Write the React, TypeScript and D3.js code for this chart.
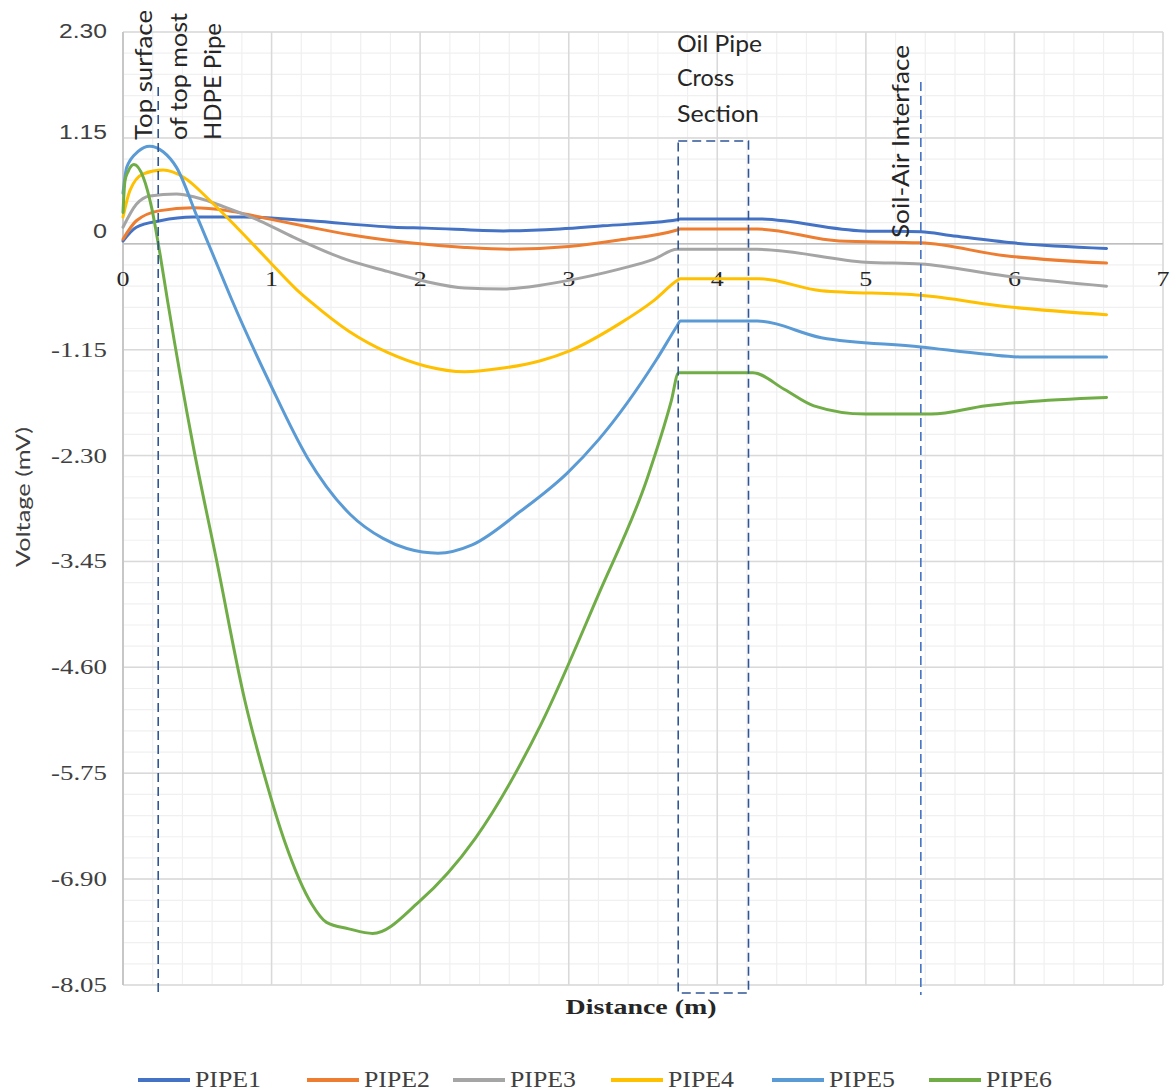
import React from "react";
import * as d3 from "d3";

const seriesNames = ["PIPE1", "PIPE2", "PIPE3", "PIPE4", "PIPE5", "PIPE6"];
const seriesColors = ["#4472c4", "#ed7d31", "#a5a5a5", "#ffc000", "#5b9bd5", "#70ad47"];

const pipe1: [number, number][] = [
  [0, 0.03], [0.09, 0.18], [0.25, 0.25], [0.47, 0.29], [0.81, 0.29], [1.26, 0.25], [1.82, 0.18],
  [2.04, 0.17], [2.56, 0.14], [2.94, 0.16], [3.23, 0.195], [3.73, 0.26], [3.75, 0.27], [4.27, 0.27],
  [4.98, 0.14], [5.37, 0.13], [5.57, 0.09], [5.99, 0.01], [6.62, -0.05],
];
const pipe2: [number, number][] = [
  [0, 0.05], [0.09, 0.25], [0.25, 0.36], [0.47, 0.39], [0.7, 0.36], [0.92, 0.29], [1.26, 0.18],
  [1.52, 0.1], [1.93, 0.01], [2.3, -0.04], [2.6, -0.06], [3.0, -0.03], [3.34, 0.04], [3.73, 0.15],
  [3.75, 0.16], [4.27, 0.16], [4.82, 0.03], [5.37, 0.01], [5.94, -0.13], [6.62, -0.21],
];
const pipe3: [number, number][] = [
  [0, 0.18], [0.09, 0.43], [0.18, 0.52], [0.36, 0.54], [0.5, 0.5], [0.7, 0.39], [0.92, 0.25],
  [1.15, 0.07], [1.5, -0.17], [1.78, -0.3], [2.04, -0.41], [2.3, -0.48], [2.56, -0.49], [2.81, -0.45],
  [2.99, -0.4], [3.34, -0.275], [3.57, -0.17], [3.73, -0.06], [3.75, -0.06], [4.27, -0.06], [5.0, -0.2],
  [5.37, -0.22], [5.94, -0.35], [6.62, -0.46],
];
const pipe4: [number, number][] = [
  [0, 0.29], [0.047, 0.58], [0.137, 0.76], [0.27, 0.8], [0.41, 0.72], [0.585, 0.47], [0.765, 0.18],
  [0.99, -0.2], [1.17, -0.5], [1.27, -0.64], [1.52, -0.95], [1.78, -1.18], [2.04, -1.33], [2.3, -1.39],
  [2.56, -1.35], [2.81, -1.27], [3.01, -1.16], [3.34, -0.87], [3.57, -0.62], [3.73, -0.4], [3.75, -0.38],
  [4.28, -0.38], [4.7, -0.51], [5.37, -0.56], [5.99, -0.69], [6.62, -0.77],
];
const pipe5: [number, number][] = [
  [0, 0.55], [0.025, 0.83], [0.1, 1.0], [0.18, 1.06], [0.27, 1.0], [0.36, 0.83], [0.5, 0.29],
  [0.65, -0.29], [0.73, -0.6], [0.99, -1.52], [1.24, -2.32], [1.53, -2.94],
  [1.75, -3.2], [1.91, -3.31], [2.12, -3.36], [2.35, -3.27], [2.68, -2.9], [2.99, -2.49], [3.2, -2.13],
  [3.59, -1.26], [3.73, -0.89], [3.75, -0.84], [4.27, -0.84], [4.7, -1.02], [5.37, -1.12], [5.81, -1.2],
  [6.06, -1.23], [6.62, -1.23],
];
const pipe6: [number, number][] = [
  [0, 0.34], [0.013, 0.68], [0.036, 0.79], [0.074, 0.86], [0.137, 0.72], [0.193, 0.39], [0.249, -0.11],
  [0.3, -0.62], [0.473, -2.2], [0.63, -3.44], [0.82, -4.96], [0.96, -5.82], [1.09, -6.5],
  [1.27, -7.17], [1.37, -7.37], [1.52, -7.44], [1.68, -7.49], [1.99, -7.15], [2.37, -6.46], [2.81, -5.23],
  [3.2, -3.81], [3.53, -2.54], [3.69, -1.71], [3.74, -1.4], [4.24, -1.4], [4.45, -1.58], [4.65, -1.76],
  [5.0, -1.85], [5.44, -1.85], [5.81, -1.76], [6.06, -1.72], [6.62, -1.67],
];
const allSeries = [pipe1, pipe2, pipe3, pipe4, pipe5, pipe6];

const yTickValues = [2.3, 1.15, 0, -1.15, -2.3, -3.45, -4.6, -5.75, -6.9, -8.05];
const yTickLabels = ["2.30", "1.15", "0", "-1.15", "-2.30", "-3.45", "-4.60", "-5.75", "-6.90", "-8.05"];
const xTickValues = [0, 1, 2, 3, 4, 5, 6, 7];

// annotation x positions (in data units)
const hdpeLineX = 0.237;
const oilBoxX = [3.737, 4.21];
const soilLineX = 5.37;

const W = 1175;
const H = 1091;

export default function App() {
  const x = d3.scaleLinear().domain([0, 7]).range([123, 1163]);
  const y = d3.scaleLinear().domain([-8.05, 2.3]).range([985, 32]);

  const line = d3
    .line<[number, number]>()
    .x((d) => x(d[0]))
    .y((d) => y(d[1]))
    .curve(d3.curveMonotoneX);

  const minorY = d3.range(-8.05, 2.3 + 1e-6, 0.23);
  const minorX = d3.range(0, 7 + 1e-6, 0.2);

  const sans = "Lato, 'Open Sans', sans-serif";
  const serif = "'Liberation Serif', 'DejaVu Serif', serif";
  const dashColor = "#2f5597";

  const legendLineX = [138, 307, 453, 611, 772, 929];

  return (
    <svg width={W} height={H} style={{ position: "absolute", left: 0, top: 0, background: "#fff" }}>
      <rect x={0} y={0} width={W} height={H} fill="#fff" />
      {/* minor grid */}
      {minorY.map((v, i) => (
        <line key={"my" + i} x1={x(0)} x2={x(7)} y1={y(v)} y2={y(v)} stroke="#f0f0f0" strokeWidth={1.2} />
      ))}
      {minorX.map((v, i) => (
        <line key={"mx" + i} x1={x(v)} x2={x(v)} y1={y(2.3)} y2={y(-8.05)} stroke="#f0f0f0" strokeWidth={1.2} />
      ))}
      {/* major grid */}
      {yTickValues.map((v, i) => (
        <line key={"gy" + i} x1={x(0)} x2={x(7)} y1={y(v)} y2={y(v)} stroke="#d9d9d9" strokeWidth={1.5} />
      ))}
      {xTickValues.map((v, i) => (
        <line key={"gx" + i} x1={x(v)} x2={x(v)} y1={y(2.3)} y2={y(-8.05)} stroke="#d9d9d9" strokeWidth={1.5} />
      ))}
      {/* axes */}
      <line x1={x(0)} x2={x(0)} y1={y(2.3)} y2={y(-8.05)} stroke="#bfbfbf" strokeWidth={1.5} />
      <line x1={x(0)} x2={x(7)} y1={y(0)} y2={y(0)} stroke="#bfbfbf" strokeWidth={1.5} />

      {/* y tick labels */}
      {yTickValues.map((v, i) => {
        const isSans = v >= 0;
        const off = v === 2.3 ? -1 : v === 1.15 ? -6 : v === 0 ? -13 : 0;
        const lab = yTickLabels[i];
        const len = lab.length === 1 ? 14 : lab.length === 4 ? 48 : 56;
        return (
          <text
            key={"yl" + i}
            x={107}
            y={y(v) + off + 7}
            textAnchor="end"
            fontFamily={isSans ? "'Liberation Sans', Arial, sans-serif" : serif}
            fontSize={20}
            fill="#404040"
            textLength={len}
            lengthAdjust="spacingAndGlyphs"
          >
            {lab}
          </text>
        );
      })}
      {/* x tick labels */}
      {xTickValues.map((v, i) => (
        <text
          key={"xl" + i}
          x={x(v)}
          y={y(0) + 42}
          textAnchor="middle"
          fontFamily={serif}
          fontSize={21}
          fill="#262626"
          textLength={13}
          lengthAdjust="spacingAndGlyphs"
        >
          {String(v)}
        </text>
      ))}

      {/* series */}
      {allSeries.map((s, i) => (
        <path
          key={"s" + i}
          d={line(s) || ""}
          fill="none"
          stroke={seriesColors[i]}
          strokeWidth={3}
          strokeLinejoin="round"
          strokeLinecap="round"
        />
      ))}

      {/* annotations */}
      <line x1={x(hdpeLineX)} x2={x(hdpeLineX)} y1={87} y2={993} stroke={dashColor} strokeWidth={1.6} strokeDasharray="9,5" />
      <rect
        x={x(oilBoxX[0])}
        y={141}
        width={x(oilBoxX[1]) - x(oilBoxX[0])}
        height={993 - 141}
        fill="none"
        stroke={dashColor}
        strokeWidth={1.6}
        strokeDasharray="9,5"
      />
      <line x1={x(soilLineX)} x2={x(soilLineX)} y1={82} y2={995} stroke="#4472c4" strokeWidth={1.6} strokeDasharray="9,5" />

      <text transform="translate(152,140) rotate(-90)" fontFamily={sans} fontSize={24} fill="#262626" textLength={130} lengthAdjust="spacingAndGlyphs">
        Top surface
      </text>
      <text transform="translate(187,140) rotate(-90)" fontFamily={sans} fontSize={24} fill="#262626" textLength={127} lengthAdjust="spacingAndGlyphs">
        of top most
      </text>
      <text transform="translate(221,140) rotate(-90)" fontFamily={sans} fontSize={24} fill="#262626" textLength={117} lengthAdjust="spacingAndGlyphs">
        HDPE Pipe
      </text>
      <text x={677} y={52} fontFamily={sans} fontSize={23} fill="#262626" textLength={85} lengthAdjust="spacingAndGlyphs">
        Oil Pipe
      </text>
      <text x={677} y={86} fontFamily={sans} fontSize={23} fill="#262626" textLength={57} lengthAdjust="spacingAndGlyphs">
        Cross
      </text>
      <text x={677} y={121.5} fontFamily={sans} fontSize={23} fill="#262626" textLength={82} lengthAdjust="spacingAndGlyphs">
        Section
      </text>
      <text transform="translate(909,238) rotate(-90)" fontFamily={sans} fontSize={24} fill="#262626" textLength={193} lengthAdjust="spacingAndGlyphs">
        Soil-Air  Interface
      </text>

      {/* axis titles */}
      <text transform="translate(30,567) rotate(-90)" fontFamily={sans} fontSize={20} fill="#404040" textLength={140} lengthAdjust="spacingAndGlyphs">
        Voltage (mV)
      </text>
      <text x={641} y={1014} textAnchor="middle" fontFamily={serif} fontWeight="bold" fontSize={22} fill="#262626" textLength={151} lengthAdjust="spacingAndGlyphs">
        Distance (m)
      </text>

      {/* legend */}
      {seriesNames.map((n, i) => (
        <g key={"lg" + i}>
          <line x1={legendLineX[i]} x2={legendLineX[i] + 52} y1={1080} y2={1080} stroke={seriesColors[i]} strokeWidth={4} />
          <text
            x={legendLineX[i] + 57}
            y={1087}
            fontFamily={serif}
            fontSize={23}
            fill="#404040"
            textLength={66}
            lengthAdjust="spacingAndGlyphs"
          >
            {n}
          </text>
        </g>
      ))}
    </svg>
  );
}
